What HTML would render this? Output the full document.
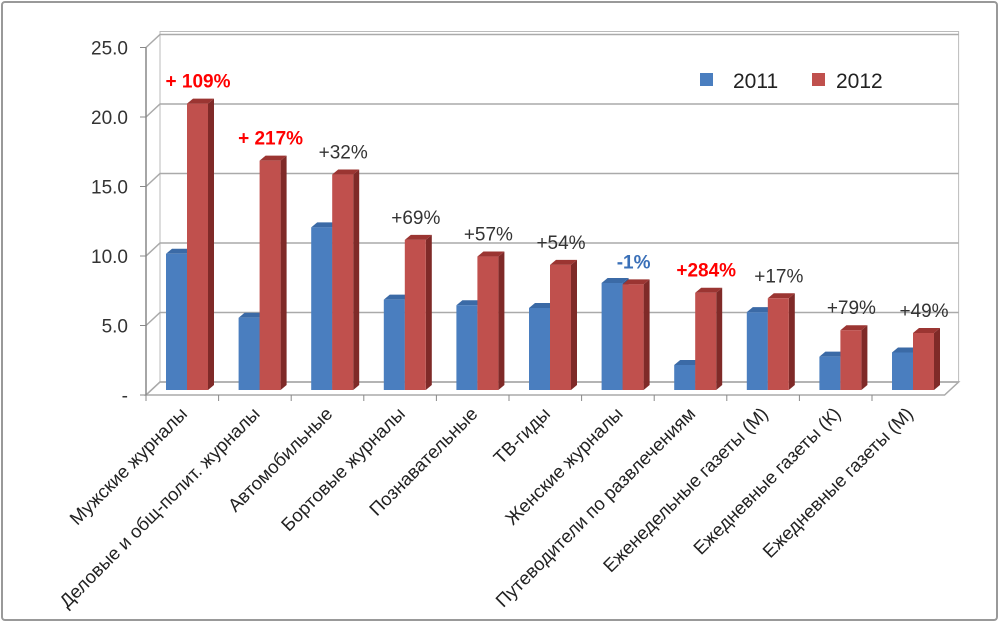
<!DOCTYPE html>
<html><head><meta charset="utf-8"><style>
body{margin:0;background:#fff;}
svg{display:block;font-family:"Liberation Sans","DejaVu Sans",sans-serif;}
</style></head><body>
<svg id="chart" width="1000" height="634">
<rect x="2" y="2" width="995" height="618" fill="#fff" stroke="#999" stroke-width="2" rx="3"/>
<g id="grid"></g><g id="bars"></g><g id="labels"></g>
<g>
<rect x="700" y="73" width="13" height="13" fill="#4a7ebf"/>
<text x="733" y="88" font-size="21" fill="#222">2011</text>
<rect x="812" y="73" width="13" height="13" fill="#c0504d"/>
<text x="836" y="88" font-size="21" fill="#222">2012</text>
</g>
</svg>
<script>
const categories=["Мужские журналы","Деловые и общ-полит. журналы","Автомобильные","Бортовые журналы","Познавательные","ТВ-гиды","Женские журналы","Путеводители по развлечениям","Еженедельные газеты (М)","Ежедневные газеты (К)","Ежедневные газеты (М)"];
const values2011=[9.8,5.2,11.7,6.5,6.1,5.9,7.7,1.8,5.6,2.4,2.7];
const values2012=[20.6,16.5,15.5,10.8,9.6,9.0,7.6,7.0,6.6,4.3,4.1];
const changeLabels=["+ 109%","+ 217%","+32%","+69%","+57%","+54%","-1%","+284%","+17%","+79%","+49%"];
const changeColors=["red","red","#333","#333","#333","#333","#3a70b8","red","#333","#333","#333"];
const yTicks=[0,5,10,15,20,25];
const yTickLabels=["-","5.0","10.0","15.0","20.0","25.0"];
const NS="http://www.w3.org/2000/svg";
const x0=146,catW=72.6,base=390,pxPer=13.9,dx=14,dy=-13,axisY=395;
const yScale=v=>base-v*pxPer;
const xCat=i=>x0+i*catW;
function mk(tag,attrs,parent){const e=document.createElementNS(NS,tag);for(const k in attrs)e.setAttribute(k,attrs[k]);parent.appendChild(e);return e;}
const grid=document.getElementById('grid'),bars=document.getElementById('bars'),labels=document.getElementById('labels');
const xEnd=x0+categories.length*catW;
const wall=mk('rect',{x:x0+dx,y:axisY+dy-25*pxPer-3,width:xEnd-x0,height:25*pxPer+3,fill:'#fff',stroke:'#bbb'},grid);


const floor=mk('polygon',{points:`${x0},${axisY} ${x0+dx},${axisY+dy} ${xEnd+dx},${axisY+dy} ${xEnd},${axisY}`,fill:'#fff',stroke:'#aaa','stroke-width':1.5},grid);


yTicks.forEach((t,i)=>{
  const yf=axisY-t*pxPer, yb=yf+dy;
  const g=mk('polyline',{points:`${x0},${yf} ${x0+dx},${yb} ${xEnd+dx},${yb}`,fill:'none',stroke:'#aaa','stroke-width':1.5},grid);
  
  
  mk('line',{x1:x0-6,y1:yf,x2:x0,y2:yf,stroke:'#888'},grid);
  const tl=mk('text',{x:x0-18,y:yf+7,'font-size':19,fill:'#333','text-anchor':'end'},grid);
  tl.textContent=yTickLabels[i];
  
  
});
const ax=mk('line',{x1:x0,y1:axisY-25*pxPer,x2:x0,y2:axisY,stroke:'#888','stroke-width':1.5},grid);


function bar(x,w,v,front,side,top,name){
  const g=mk('g',{},bars);
  
  
  const yt=yScale(v),d=6,e=-5;
  mk('polygon',{points:`${x+w},${base} ${x+w+d},${base+e} ${x+w+d},${yt+e} ${x+w},${yt}`,fill:side},g);
  mk('polygon',{points:`${x},${yt} ${x+d},${yt+e} ${x+w+d},${yt+e} ${x+w},${yt}`,fill:top},g);
  mk('rect',{x:x,y:yt,width:w,height:base-yt,fill:front},g);
}
categories.forEach((c,i)=>{
  const cx=xCat(i);
  mk('line',{x1:cx,y1:axisY,x2:cx,y2:axisY+6,stroke:'#888'},grid);
  bar(cx+20,21,values2011[i],'#4a7ebf','#2d5a92','#3b6aa6','bar-2011');
  bar(cx+41,21,values2012[i],'#c0504d','#7f2a28','#9b3532','bar-2012');
  const dl=mk('text',{x:cx+52,y:yScale(values2012[i])-16,'font-size':19,fill:changeColors[i],'text-anchor':'middle','font-weight':changeColors[i]=='#333'?'normal':'bold'},labels);
  dl.textContent=changeLabels[i];
  
  
  const lx=cx+catW/2+6,ly=axisY+20;
  const t=mk('text',{x:lx,y:ly,'font-size':18.5,fill:'#222','text-anchor':'end',transform:`rotate(-45 ${lx} ${ly})`},labels);
  t.textContent=c;
  
  
});
</script>
</body></html>
